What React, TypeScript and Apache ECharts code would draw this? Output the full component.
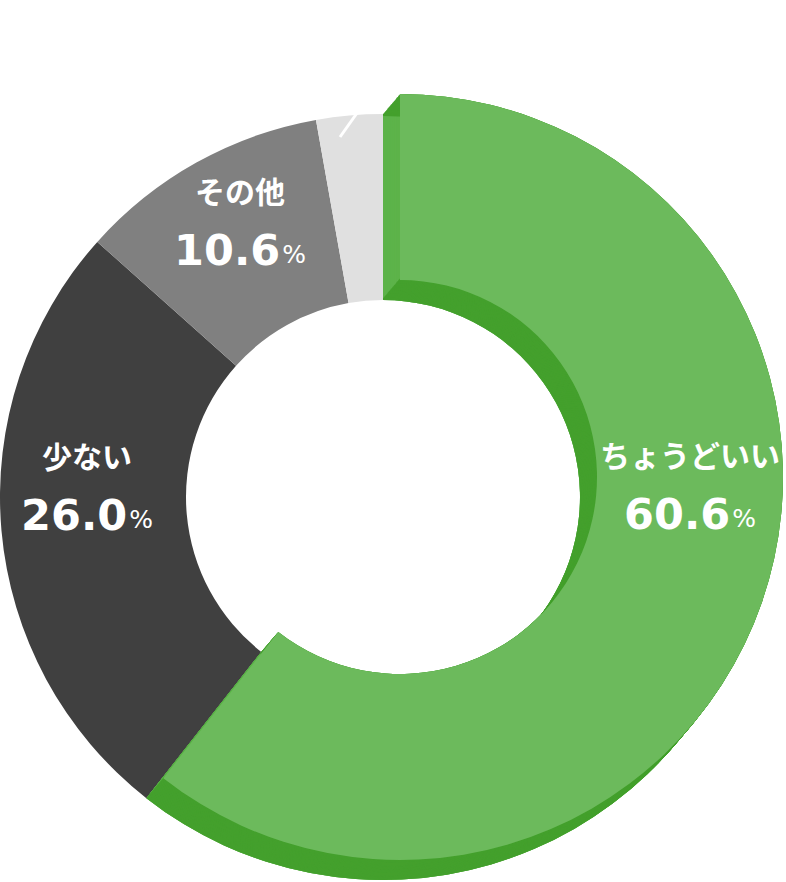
import React, { useEffect, useRef } from "react";
import * as echarts from "echarts";

// ---- data ----
const categories = ["ちょうどいい", "少ない", "その他", "多い"];
const values = [60.6, 26.0, 10.6, 2.8];
const showLabel = [true, true, true, false];

// ---- styles / layout ----
const sliceColors = ["#6cba5c", "#404040", "#808080", "#e0e0e0"];
const SIDE_GREEN = "#5db34a";
const DARK_GREEN = "#44a02d";
const CX = 383;
const CY = 497;
const RI = 197;
const RO = 383;
const DX = 17;
const DY = -20;
const STEPS = 26;
const labelAnchors = [
  [690, 482],
  [87, 483],
  [240, 218],
  [0, 0],
];

export default function App() {
  const ref = useRef<HTMLDivElement>(null);

  useEffect(() => {
    if (!ref.current) return;
    const chart = echarts.init(ref.current, undefined, { renderer: "svg" });

    const greenOnly = (color: string) =>
      categories.map((name, i) => ({
        name,
        value: values[i],
        itemStyle: { color: i === 0 ? color : "rgba(0,0,0,0)" },
      }));

    const pie = (cx: number, cy: number, radius: number[], data: any[], extra: any = {}) => ({
      type: "pie",
      center: [cx, cy],
      radius,
      startAngle: 90,
      clockwise: true,
      data,
      silent: true,
      avoidLabelOverlap: false,
      label: { show: false },
      labelLine: { show: false },
      itemStyle: { borderWidth: 0 },
      emphasis: { disabled: true },
      ...extra,
    });

    const series: any[] = [];
    // base ring (all slices)
    series.push(
      pie(
        CX,
        CY,
        [RI, RO],
        categories.map((name, i) => ({
          name,
          value: values[i],
          itemStyle: { color: i === 0 ? SIDE_GREEN : sliceColors[i] },
        }))
      )
    );
    // extrusion sides
    for (let k = 0; k <= STEPS; k++) {
      const t = k / STEPS;
      series.push(pie(CX + DX * t, CY + DY * t, [RI, RO], greenOnly(SIDE_GREEN)));
    }
    // extrusion outer / inner arcs
    for (let k = 0; k <= STEPS; k++) {
      const t = k / STEPS;
      series.push(pie(CX + DX * t, CY + DY * t, [RO - 2, RO], greenOnly(DARK_GREEN)));
      series.push(pie(CX + DX * t, CY + DY * t, [RI, RI + 2], greenOnly(DARK_GREEN)));
    }
    // raised face + labels
    series.push(
      pie(
        CX + DX,
        CY + DY,
        [RI, RO],
        categories.map((name, i) => ({
          name,
          value: values[i],
          itemStyle: { color: i === 0 ? sliceColors[0] : "rgba(0,0,0,0)" },
          label: { show: showLabel[i] },
        })),
        {
          label: {
            show: true,
            position: "inside",
            color: "#ffffff",
            formatter: (p: any) =>
              `{n|${p.name}}\n{v|${Number(p.value).toFixed(1)}}{p|%}`,
            rich: {
              n: {
                fontFamily: "Noto Sans CJK JP",
                fontWeight: "bold",
                fontSize: 30,
                color: "#ffffff",
                lineHeight: 50,
                align: "center",
              },
              v: {
                fontFamily: "DejaVu Sans",
                fontWeight: "bold",
                fontSize: 43,
                color: "#ffffff",
                lineHeight: 56,
                verticalAlign: "bottom",
              },
              p: {
                fontFamily: "DejaVu Sans",
                fontWeight: "normal",
                fontSize: 25,
                color: "#ffffff",
                lineHeight: 56,
                verticalAlign: "bottom",
                padding: [0, 0, 4, 2],
              },
            },
          },
          labelLayout: (params: any) => {
            const a = labelAnchors[params.dataIndex];
            return { x: a[0], y: a[1] };
          },
        }
      )
    );

    chart.setOption({
      animation: false,
      backgroundColor: "#ffffff",
      series,
      graphic: [
        {
          type: "line",
          silent: true,
          shape: { x1: 340, y1: 137, x2: 362, y2: 106 },
          style: { stroke: "#ffffff", lineWidth: 3 },
          z: 100,
        },
      ],
    });

    return () => chart.dispose();
  }, []);

  return (
    <div
      ref={ref}
      style={{ position: "absolute", left: 0, top: 0, width: 786, height: 882 }}
    />
  );
}
